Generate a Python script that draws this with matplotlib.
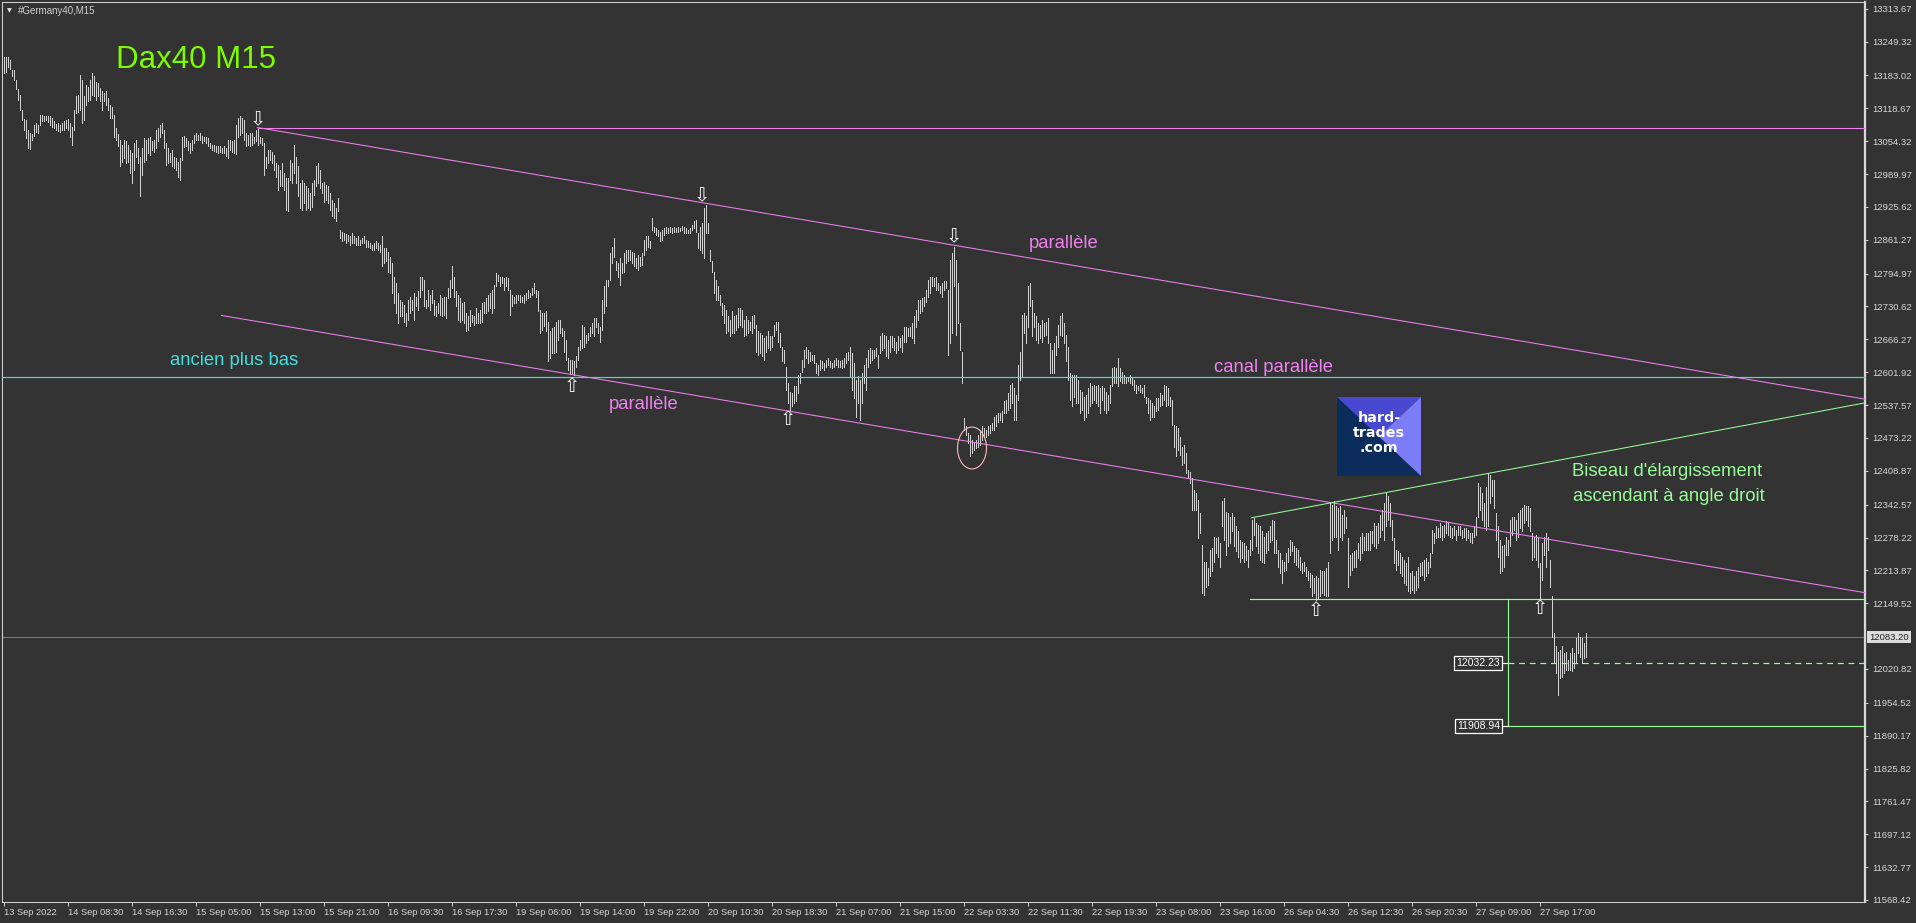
import matplotlib
matplotlib.use('Agg')
import matplotlib.pyplot as plt
from matplotlib.patches import Ellipse, Polygon
from matplotlib.transforms import blended_transform_factory

# ---------------- data ----------------
highs = [
    13220,13219,13220,13214,13193,13193,13174,13156,13145,13116,
    13097,13096,13076,13071,13069,13086,13090,13086,13106,13106,
    13103,13104,13103,13103,13099,13093,13088,13090,13086,13090,
    13093,13096,13097,13090,13083,13116,13143,13145,13184,13174,
    13142,13165,13161,13174,13187,13181,13171,13168,13158,13152,
    13148,13152,13138,13125,13122,13106,13080,13069,13057,13047,
    13057,13054,13047,13037,13031,13050,13057,13041,13024,13041,
    13060,13057,13060,13063,13054,13057,13076,13080,13086,13090,
    13076,13050,13041,13031,13037,13024,13021,13014,13021,13063,
    13065,13060,13054,13050,13057,13067,13070,13067,13070,13065,
    13063,13062,13060,13050,13047,13047,13045,13044,13044,13041,
    13044,13041,13057,13057,13054,13057,13086,13099,13103,13099,
    13096,13070,13067,13070,13070,13063,13076,13081,13063,13060,
    13050,13024,13037,13037,13034,13028,13011,13008,12998,13011,
    12992,12982,12982,13018,13011,13047,13024,13005,12972,12979,
    12972,12966,12962,12952,12972,12979,13005,13011,12998,12972,
    12975,12969,12966,12952,12939,12933,12923,12943,12881,12877,
    12874,12873,12871,12868,12874,12868,12864,12868,12861,12864,
    12868,12861,12858,12855,12851,12855,12858,12855,12851,12868,
    12845,12845,12838,12828,12815,12789,12776,12757,12744,
    12740,12734,12718,12744,12750,12744,12757,12750,12760,12789,
    12789,12783,12744,12763,12753,12763,12744,12731,12737,12753,
    12747,12750,12750,12766,12783,12809,12789,12760,12753,12747,
    12737,12740,12718,12711,12724,12714,12711,12727,12718,12724,
    12737,12740,12747,12753,12757,12763,12773,12796,12793,12789,
    12789,12786,12789,12786,12763,12753,12750,12753,12753,12753,
    12750,12753,12757,12763,12757,12766,12776,12763,12760,12724,
    12718,12718,12721,12701,12682,12688,12691,12701,12704,12704,
    12688,12682,12665,12629,12626,12626,12623,12633,12652,12665,
    12695,12691,12675,12678,12691,12698,12708,12708,12698,12691,
    12744,12770,12783,12783,12835,12848,12864,12819,12815,12825,
    12815,12835,12842,12842,12842,12838,12835,12825,12832,12828,
    12835,12861,12868,12868,12858,12904,12887,12884,12881,12877,
    12881,12884,12887,12884,12887,12884,12887,12884,12887,12884,
    12889,12886,12884,12881,12884,12890,12897,12900,12874,12887,
    12894,12923,12930,12894,12842,12819,12799,12783,12770,12753,
    12737,12734,12724,12711,12704,12721,12711,12714,12727,12727,
    12724,12704,12711,12704,12701,12711,12714,12695,12682,12678,
    12675,12669,12672,12682,12672,12672,12695,12701,12701,12678,
    12652,12646,12613,12580,12564,12561,12574,12574,12597,12600,
    12626,12646,12652,12646,12642,12636,12636,12620,12616,12626,
    12623,12620,12626,12629,12623,12620,12626,12629,12626,12623,
    12626,12629,12639,12642,12652,12639,12620,12587,12594,12587,
    12600,12616,12629,12646,12649,12646,12646,12649,12636,12672,
    12678,12675,12672,12665,12672,12672,12669,12662,12672,12669,
    12675,12691,12691,12688,12691,12698,12711,12724,12744,12744,
    12747,12750,12763,12783,12789,12789,12786,12789,12776,12770,
    12776,12780,12780,12763,12822,12835,12848,12822,12776,12698,
    12642,12512,12496,12482,12479,12469,12466,12469,12479,12489,
    12496,12492,12489,12496,12499,12502,12515,12518,12522,12522,
    12525,12545,12548,12561,12577,12580,12571,12558,12616,12642,
    12714,12717,12711,12770,12776,12744,12717,12711,12698,12695,
    12704,12698,12701,12708,12659,12646,12659,12672,12695,12711,
    12717,12698,12675,12652,12600,12597,12597,12597,12587,12567,
    12564,12554,12558,12571,12580,12574,12577,12574,12577,12571,
    12574,12571,12564,12558,12577,12610,12613,12610,12629,12610,
    12603,12597,12593,12593,12597,12593,12587,12577,12574,12577,
    12571,12577,12554,12551,12548,12541,12535,12551,12551,12561,
    12558,12577,12574,12571,12554,12548,12499,12496,12492,12476,
    12456,12460,12443,12411,12407,12394,12372,12365,12352,12326,
    12264,12231,12231,12218,12254,12257,12280,12277,12280,12267,
    12349,12355,12329,12326,12319,12326,12319,12300,12290,12274,
    12270,12267,12261,12254,12274,12313,12316,12306,12303,12300,
    12290,12280,12287,12290,12300,12313,12310,12274,12254,12248,
    12235,12231,12248,12257,12274,12270,12261,12257,12254,12241,
    12228,12231,12221,12212,12208,12205,12199,12202,12199,12215,
    12212,12212,12218,12231,12346,12342,12349,12339,12336,12339,
    12323,12332,12319,12277,12244,12248,12251,12254,12267,12280,
    12287,12280,12287,12287,12290,12290,12306,12300,12306,12323,
    12332,12346,12365,12359,12346,12313,12277,12254,12251,12248,
    12241,12235,12228,12241,12208,12212,12202,12212,12221,12228,
    12231,12235,12238,12231,12248,12293,12287,12300,12297,12306,
    12300,12303,12310,12306,12300,12297,12300,12293,12300,12300,
    12293,12297,12297,12293,12287,12287,12300,12319,12385,12378,
    12365,12346,12378,12404,12401,12391,12391,12326,12300,12274,
    12261,12264,12280,12274,12313,12319,12319,12313,12326,12332,
    12336,12342,12339,12339,12336,12287,12280,12283,12280,12228,
    12267,12280,12287,12280,12235,12163,12091,12065,12055,12058,
    12065,12052,12055,12039,12052,12062,12052,12081,12091,12084,
    12081,12071,12091,
]

lows = [
    13187,13189,13200,13195,13181,13174,13156,13134,13116,13095,
    13076,13060,13041,13039,13057,13065,13073,13070,13086,13093,
    13093,13095,13091,13086,13083,13080,13076,13074,13072,13076,
    13076,13080,13076,13063,13046,13076,13109,13112,13116,13090,
    13096,13125,13132,13135,13145,13142,13135,13142,13132,13116,
    13132,13125,13116,13099,13099,13063,13057,13044,13005,13014,
    13021,13011,13014,12992,12972,12998,13024,13011,12946,12988,
    13014,13018,13031,13028,13037,13034,13041,13054,13063,13070,
    13041,13008,13011,13014,13005,13001,12998,12985,12979,13018,
    13043,13044,13037,13031,13037,13050,13057,13057,13057,13050,
    13054,13050,13044,13041,13037,13036,13034,13032,13034,13031,
    13032,13026,13021,13037,13034,13031,13030,13063,13067,13070,
    13057,13044,13047,13044,13047,13050,13054,13047,13050,13047,
    12988,13001,13011,13018,13011,12998,12985,12959,12966,12966,
    12959,12920,12917,12979,12972,12992,12972,12946,12923,12920,
    12933,12920,12923,12920,12926,12949,12966,12972,12962,12952,
    12936,12939,12933,12920,12907,12904,12897,12917,12864,12858,
    12861,12855,12858,12851,12855,12855,12851,12851,12851,12855,
    12855,12848,12848,12845,12841,12841,12845,12841,12838,12809,
    12815,12819,12799,12796,12757,12737,12717,12698,12711,
    12711,12701,12692,12704,12718,12724,12704,12731,12724,12750,
    12763,12731,12727,12731,12724,12737,12714,12711,12718,12714,
    12711,12714,12708,12747,12750,12766,12750,12731,12704,12701,
    12704,12698,12682,12685,12692,12701,12695,12698,12698,12698,
    12701,12718,12718,12721,12727,12718,12727,12770,12780,12770,
    12776,12763,12770,12763,12714,12731,12737,12737,12744,12740,
    12740,12737,12744,12747,12750,12753,12757,12750,12721,12678,
    12685,12692,12682,12623,12629,12639,12639,12642,12665,12678,
    12672,12642,12626,12607,12600,12600,12597,12613,12626,12646,
    12649,12652,12659,12665,12672,12678,12672,12691,12678,12662,
    12685,12718,12731,12770,12783,12815,12828,12802,12789,12773,
    12796,12799,12815,12819,12822,12815,12809,12806,12802,12809,
    12812,12832,12842,12848,12845,12881,12877,12871,12868,12858,
    12861,12871,12874,12874,12877,12874,12877,12877,12877,12879,
    12881,12874,12874,12874,12874,12881,12884,12877,12845,12842,
    12835,12825,12874,12874,12819,12799,12757,12744,12744,12734,
    12714,12698,12678,12682,12672,12678,12678,12685,12691,12695,
    12691,12672,12675,12678,12685,12678,12688,12642,12636,12639,
    12633,12626,12642,12649,12646,12652,12672,12685,12662,12652,
    12623,12620,12567,12541,12528,12535,12541,12545,12561,12581,
    12603,12613,12629,12620,12623,12626,12620,12600,12597,12607,
    12610,12607,12613,12616,12613,12610,12613,12616,12613,12613,
    12610,12613,12620,12626,12594,12567,12551,12515,12541,12509,
    12541,12580,12567,12613,12620,12626,12629,12633,12610,12639,
    12646,12649,12633,12629,12642,12652,12646,12639,12646,12652,
    12642,12662,12662,12672,12672,12669,12659,12691,12704,12717,
    12721,12731,12740,12750,12757,12770,12770,12763,12763,12757,
    12750,12763,12766,12636,12659,12678,12770,12675,12698,12646,
    12580,12489,12479,12463,12437,12443,12450,12453,12456,12460,
    12469,12476,12476,12479,12482,12489,12489,12496,12505,12509,
    12505,12522,12522,12528,12531,12541,12509,12509,12548,12587,
    12594,12678,12659,12691,12731,12672,12691,12665,12659,12669,
    12662,12672,12675,12659,12600,12600,12600,12636,12652,12675,
    12672,12659,12623,12587,12548,12535,12554,12541,12541,12522,
    12528,12509,12515,12522,12535,12541,12548,12541,12535,12522,
    12548,12528,12522,12528,12541,12574,12580,12580,12574,12584,
    12580,12580,12580,12584,12580,12577,12567,12561,12567,12564,
    12561,12554,12541,12522,12509,12515,12515,12525,12528,12535,
    12538,12548,12535,12538,12535,12499,12456,12437,12450,12440,
    12420,12424,12404,12394,12385,12332,12332,12332,12277,12287,
    12169,12166,12182,12186,12202,12212,12231,12248,12241,12221,
    12300,12274,12244,12261,12267,12290,12261,12251,12241,12231,
    12238,12231,12235,12221,12244,12254,12283,12261,12248,12235,
    12231,12228,12248,12254,12270,12274,12248,12248,12221,12208,
    12189,12212,12215,12231,12244,12251,12231,12225,12221,12215,
    12208,12212,12202,12195,12182,12163,12169,12156,12159,12163,
    12169,12166,12163,12163,12248,12274,12280,12280,12254,12280,
    12274,12287,12297,12182,12205,12215,12221,12221,12238,12235,
    12248,12254,12254,12254,12254,12267,12261,12257,12267,12280,
    12293,12274,12300,12313,12300,12274,12228,12215,12225,12208,
    12202,12189,12186,12173,12169,12176,12169,12176,12182,12202,
    12205,12195,12202,12208,12221,12248,12267,12277,12280,12280,
    12274,12280,12287,12283,12280,12277,12283,12274,12283,12283,
    12277,12280,12274,12277,12270,12267,12280,12283,12319,12332,
    12313,12300,12293,12300,12346,12359,12336,12274,12241,12208,
    12212,12221,12244,12244,12261,12283,12293,12274,12280,12297,
    12290,12306,12313,12300,12290,12235,12241,12235,12221,12156,
    12195,12244,12221,12254,12182,12084,12032,12013,11970,12003,
    12006,12013,12019,12019,12019,12016,12022,12032,12052,12045,
    12032,12042,12045,
]

time_labels = [
    "13 Sep 2022", "14 Sep 08:30", "14 Sep 16:30", "15 Sep 05:00", "15 Sep 13:00",
    "15 Sep 21:00", "16 Sep 09:30", "16 Sep 17:30", "19 Sep 06:00", "19 Sep 14:00",
    "19 Sep 22:00", "20 Sep 10:30", "20 Sep 18:30", "21 Sep 07:00", "21 Sep 15:00",
    "22 Sep 03:30", "22 Sep 11:30", "22 Sep 19:30", "23 Sep 08:00", "23 Sep 16:00",
    "26 Sep 04:30", "26 Sep 12:30", "26 Sep 20:30", "27 Sep 09:00", "27 Sep 17:00",
]
bars_per_label = 32

price_ticks = [
    13313.67, 13249.32, 13183.02, 13118.67, 13054.32, 12989.97, 12925.62,
    12861.27, 12794.97, 12730.62, 12666.27, 12601.92, 12537.57, 12473.22,
    12408.87, 12342.57, 12278.22, 12213.87, 12149.52, 12020.82, 11954.52,
    11890.17, 11825.82, 11761.47, 11697.12, 11632.77, 11568.42,
]
current_price = 12083.20

# chart objects: (bar, price) anchors
top_level = (127, 13081)
upper_channel = (127, 13081, 931, 12549)
lower_channel = (109, 12713, 931, 12170)
old_low_level = 12592.0
wedge_top = (624, 12317, 931, 12542)
wedge_base = (623, 12157)
proj_bar = 752
proj_mid = 12032.23
proj_low = 11908.94

down_arrows = [(127.3, 13096), (349.4, 12947), (475.4, 12867)]
up_arrows = [(284.0, 12574), (392.1, 12510), (656.1, 12136), (768.1, 12139)]
circle_mark = (484.25, 12453.5, 14.5, 82)

# ---------------- style ----------------
W, H = 1916, 923
BG = '#333333'
BAR = '#d2d2d2'
FG = '#d4d8dc'
VIOLET = '#ee82ee'
AQUA = '#3fe0e0'
PGREEN = '#98fb98'

plt.rcParams['font.family'] = ['Liberation Sans', 'DejaVu Sans']

fig = plt.figure(figsize=(W / 100, H / 100), dpi=100, facecolor=BG)
ax = fig.add_axes([2 / W, 1 - 902 / H, 1863 / W, 900 / H])
ax.set_facecolor(BG)
x_left, x_right = -0.75, 930.75
ax.set_xlim(x_left, x_right)
ax.set_ylim(11564.5, 13326.8)

n = min(len(highs), len(lows))
idx = list(range(n))
ax.vlines(idx, lows[:n], highs[:n], colors=BAR, linewidth=0.72, antialiased=False, zorder=3)

# levels and trend lines
ax.plot([top_level[0], x_right], [top_level[1], top_level[1]], color=VIOLET, lw=0.75, zorder=4)
ax.plot([upper_channel[0], upper_channel[2]], [upper_channel[1], upper_channel[3]], color=VIOLET, lw=0.75, zorder=4)
ax.plot([lower_channel[0], lower_channel[2]], [lower_channel[1], lower_channel[3]], color=VIOLET, lw=0.75, zorder=4)
ax.axhline(old_low_level, color=AQUA, lw=0.85, zorder=4)
ax.axhline(current_price, color='#7a7a7a', lw=0.75, zorder=2)
ax.plot([wedge_top[0], wedge_top[2]], [wedge_top[1], wedge_top[3]], color=PGREEN, lw=0.75, zorder=4)
ax.plot([wedge_base[0], x_right], [wedge_base[1], wedge_base[1]], color=PGREEN, lw=0.85, zorder=4)
ax.plot([proj_bar, proj_bar], [wedge_base[1], proj_low], color=PGREEN, lw=0.85, zorder=4)
ax.plot([proj_bar, x_right], [proj_low, proj_low], color=PGREEN, lw=0.85, zorder=4)
ax.plot([proj_bar, x_right], [proj_mid, proj_mid], color=PGREEN, lw=0.85, ls=(0, (5, 4)), zorder=4)

for val in (proj_mid, proj_low):
    ax.plot([proj_bar - 2.5, proj_bar], [val, val], color='white', lw=0.85, zorder=5)
    ax.text(proj_bar - 3.7, val, f'{val:.2f}', ha='right', va='center', fontsize=7.5,
            color='white', zorder=6,
            bbox=dict(boxstyle='square,pad=0.22', fc=BG, ec='white', lw=0.9))

# ellipse
ex, ey, ew, eh = circle_mark
ax.add_patch(Ellipse((ex, ey), ew, eh, fill=False, ec='#ffb6c1', lw=0.8, zorder=5))

# arrows
for bx, py in down_arrows:
    ax.text(bx, py, '\u21e9', ha='center', va='center', fontsize=14, color='#f2f2f2',
            family='DejaVu Sans', zorder=6)
for bx, py in up_arrows:
    ax.text(bx, py, '\u21e7', ha='center', va='center', fontsize=14, color='#f2f2f2',
            family='DejaVu Sans', zorder=6)

# annotations
ax.text(56, 13213, 'Dax40 M15', color='#7cfc00', fontsize=22.5, ha='left', va='center', zorder=6)
ax.text(83, 12625, 'ancien plus bas', color=AQUA, fontsize=13.3, ha='left', va='center', zorder=6)
ax.text(302.5, 12537.7, 'parallèle', color=VIOLET, fontsize=13.3, ha='left', va='center', zorder=6)
ax.text(512.5, 12853, 'parallèle', color=VIOLET, fontsize=13.3, ha='left', va='center', zorder=6)
ax.text(605, 12611, 'canal parallèle', color=VIOLET, fontsize=13.3, ha='left', va='center', zorder=6)
ax.text(784.3, 12406.5, "Biseau d'élargissement", color=PGREEN, fontsize=13.3, ha='left', va='center', zorder=6)
ax.text(784.8, 12357.6, 'ascendant à angle droit', color=PGREEN, fontsize=13.3, ha='left', va='center', zorder=6)

# axes styling
for side in ('left', 'top', 'bottom'):
    ax.spines[side].set_color('#cfcfcf')
    ax.spines[side].set_linewidth(0.75)
ax.spines['right'].set_color('#d8d8d8')
ax.spines['right'].set_linewidth(1.6)

ax.yaxis.tick_right()
ax.set_yticks(price_ticks)
ax.set_yticklabels([f'{v:.2f}' for v in price_ticks])
ax.tick_params(axis='y', direction='out', length=2.2, width=0.75, colors='#cfcfcf',
               labelcolor=FG, labelsize=6.8, pad=2.7)
ax.set_xticks([k * bars_per_label for k in range(len(time_labels))])
ax.set_xticklabels(time_labels)
ax.tick_params(axis='x', direction='out', length=2.9, width=0.75, colors='#cfcfcf',
               labelcolor=FG, labelsize=6.7, pad=1.5)
for lab in ax.get_xticklabels():
    lab.set_horizontalalignment('left')

# current price label
tr = blended_transform_factory(ax.transAxes, ax.transData)
ax.text(1 + 4.2 / 1863, current_price, f'{current_price:.2f}', transform=tr, ha='left', va='center',
        fontsize=6.8, color='#202020', clip_on=False, zorder=7,
        bbox=dict(boxstyle='square,pad=0.18', fc='#dcdcdc', ec='none'))

# title bar text
fig.text(9.5 / W, 1 - 11 / H, '\u25bc', ha='center', va='center', fontsize=4.5, color='#e6e6e6',
         family='DejaVu Sans')
fig.text(18 / W, 1 - 10.7 / H, '#Germany40,M15', ha='left', va='center', fontsize=7, color='#d0d0d0')

# logo
lx0, ly0, lx1, ly1 = 1337, 397, 1421, 476
lax = fig.add_axes([lx0 / W, 1 - ly1 / H, (lx1 - lx0) / W, (ly1 - ly0) / H])
lax.set_xlim(0, 1)
lax.set_ylim(0, 1)
lax.axis('off')
lax.add_patch(Polygon([(0, 1), (0, 0), (1, 0)], closed=True, fc='#0c2d5c', ec='none'))
lax.add_patch(Polygon([(0, 1), (1, 1), (0.5, 0.5)], closed=True, fc='#4848d0', ec='none'))
lax.add_patch(Polygon([(1, 1), (1, 0), (0.5, 0.5)], closed=True, fc='#7c7cf8', ec='none'))
for txt, yy in (('hard-', 0.728), ('trades', 0.538), ('.com', 0.354)):
    lax.text(0.5, yy, txt, ha='center', va='center', fontsize=10.3, color='white',
             fontweight='bold', family='DejaVu Sans')

fig.savefig('out.png', dpi=100, facecolor=BG)
